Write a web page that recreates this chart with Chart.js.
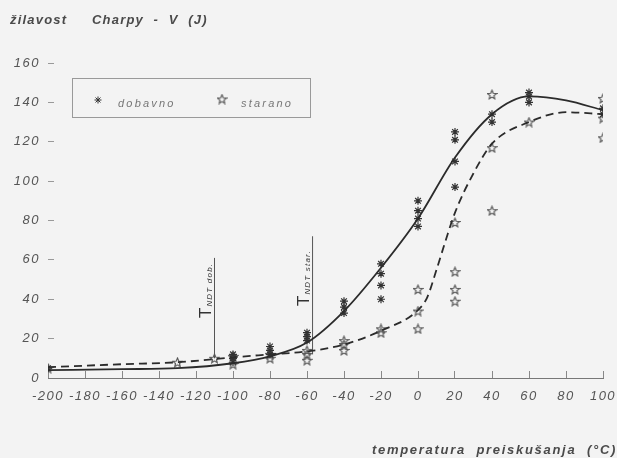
<!DOCTYPE html>
<html>
<head>
<meta charset="utf-8">
<script src="https://cdn.jsdelivr.net/npm/chart.js@4/dist/chart.umd.min.js"></script>
<style>
  body { margin: 0; background: #f3f3f3; }
  canvas { display: block; }
</style>
</head>
<body>
<canvas id="myChart" width="617" height="458"></canvas>
<script>
// izmerjene točke - dobavno
var dobTemp = [-200, -100, -100, -100, -80, -80, -80, -60, -60, -60, -40, -40, -40, -20, -20, -20, -20, 0, 0, 0, 0, 20, 20, 20, 20, 40, 40, 60, 60, 60, 100, 100];
var dobVal = [5, 8, 10, 12, 12, 14, 16, 19, 21, 23, 33, 36, 39, 40, 47, 53, 58, 77, 81, 85, 90, 97, 110, 121, 125, 130, 134, 140, 143, 145, 134, 137];
// izmerjene točke - starano
var starTemp = [-200, -130, -110, -100, -100, -80, -80, -60, -60, -60, -40, -40, -40, -20, -20, 0, 0, 0, 20, 20, 20, 20, 40, 40, 40, 60, 100, 100, 100];
var starVal = [5, 8, 10, 7, 11, 10, 12, 9, 12, 14, 14, 17, 19, 23, 25, 25, 34, 45, 39, 45, 54, 79, 85, 117, 144, 130, 122, 132, 142];
// krivulji
var dobCurveT = [-200, -160, -130, -100, -80, -60, -40, -20, 0, 20, 40, 60, 80, 100];
var dobCurveV = [4, 4.5, 5, 7.5, 11, 18, 34, 56, 81, 112, 134, 143, 141, 136];
var starCurveT = [-200, -160, -130, -100, -80, -60, -40, -20, 0, 5, 10, 15, 20, 30, 40, 60, 80, 100];
var starCurveV = [5.5, 7, 8, 10.5, 12, 13.5, 17, 24, 34.5, 41, 55, 70, 84, 104, 119, 130, 135, 134];
// T NDT
var tndtTemp = [-110, -57];
var tndtLow = [10, 12];
var tndtHigh = [61, 72];
var tndtLabels = ['NDT dob.', 'NDT star.'];

var seriesNames = ['dobavno', 'starano'];
var yTitle = ['žilavost', 'Charpy  -  V  (J)'];
var xTitle = 'temperatura  preiskušanja  (°C)';

function pts(xs, ys) {
    return xs.map(function (x, i) { return { x: x, y: ys[i] }; });
}

// zvezdica (obris) za starano
function makeStar(size, color) {
    var c = document.createElement('canvas');
    c.width = size; c.height = size;
    var g = c.getContext('2d');
    var cx = size / 2, cy = size / 2 + 0.5, R = size / 2 - 0.8, r = R * 0.45;
    g.beginPath();
    for (var i = 0; i < 10; i++) {
        var a = -Math.PI / 2 + i * Math.PI / 5;
        var rr = i % 2 ? r : R;
        g.lineTo(cx + rr * Math.cos(a), cy + rr * Math.sin(a));
    }
    g.closePath();
    g.strokeStyle = color;
    g.lineWidth = 1.1;
    g.stroke();
    return c;
}
var starImg = makeStar(11, '#505050');

var datasets = [
    {
        label: 'dob-krivulja',
        data: pts(dobCurveT, dobCurveV),
        showLine: true,
        borderColor: '#2b2b2b',
        borderWidth: 1.8,
        pointRadius: 0,
        cubicInterpolationMode: 'monotone'
    },
    {
        label: 'star-krivulja',
        data: pts(starCurveT, starCurveV),
        showLine: true,
        borderColor: '#2b2b2b',
        borderWidth: 1.8,
        borderDash: [8, 5],
        pointRadius: 0,
        cubicInterpolationMode: 'monotone'
    }
];
tndtTemp.forEach(function (t, i) {
    datasets.push({
        label: 'T' + tndtLabels[i],
        data: [{ x: t, y: tndtLow[i] }, { x: t, y: tndtHigh[i] }],
        showLine: true,
        borderColor: '#555',
        borderWidth: 1,
        pointRadius: 0
    });
});
datasets.push({
    label: seriesNames[0],
    data: pts(dobTemp, dobVal),
    pointStyle: 'star',
    pointRadius: 4,
    borderColor: '#333',
    borderWidth: 1.2,
    backgroundColor: '#333'
});
datasets.push({
    label: seriesNames[1],
    data: pts(starTemp, starVal),
    pointStyle: starImg,
    pointRadius: 5,
    borderColor: '#555'
});

// napisi, legenda in T NDT oznake
var decor = {
    id: 'decor',
    beforeDraw: function (chart) {
        chart.ctx.letterSpacing = '1.5px';
    },
    afterDraw: function (chart) {
        var ctx = chart.ctx;
        var xs = chart.scales.x;
        ctx.save();
        ctx.fillStyle = '#4a4a4a';
        ctx.font = 'italic bold 13px "Liberation Sans", Arial, sans-serif';
        ctx.letterSpacing = '1.2px';
        ctx.textBaseline = 'alphabetic';
        ctx.textAlign = 'left';
        ctx.fillText(yTitle[0], 10, 24);
        ctx.fillText(yTitle[1], 92, 24);
        ctx.letterSpacing = '1.7px';
        ctx.textAlign = 'right';
        ctx.fillText(xTitle, 617, 454);

        // legenda
        ctx.strokeStyle = '#999';
        ctx.lineWidth = 1;
        ctx.strokeRect(72.5, 78.5, 238, 39);
        ctx.strokeStyle = '#333';
        Chart.helpers.drawPoint(ctx, { pointStyle: 'star', radius: 3.5, borderWidth: 1 }, 98, 100);
        Chart.helpers.drawPoint(ctx, { pointStyle: starImg, radius: 5 }, 222, 99);
        ctx.fillStyle = '#777';
        ctx.font = 'italic 11px "Liberation Sans", Arial, sans-serif';
        ctx.letterSpacing = '2.2px';
        ctx.textAlign = 'left';
        ctx.fillText(seriesNames[0], 118, 107);
        ctx.fillText(seriesNames[1], 241, 107);

        // T NDT
        ctx.fillStyle = '#333';
        var startY = [318, 306];
        tndtTemp.forEach(function (t, i) {
            var px = xs.getPixelForValue(t) - 4;
            ctx.save();
            ctx.translate(px, startY[i]);
            ctx.rotate(-Math.PI / 2);
            ctx.letterSpacing = '0px';
            ctx.font = '17px "Liberation Sans", Arial, sans-serif';
            ctx.fillText('T', 0, 0);
            var w = ctx.measureText('T').width;
            ctx.font = 'italic 8px "Liberation Sans", Arial, sans-serif';
            ctx.letterSpacing = '1.2px';
            ctx.fillText(tndtLabels[i], w + 1, 1);
            ctx.restore();
        });
        ctx.restore();
        ctx.letterSpacing = '0px';
    }
};

var ctx = document.getElementById('myChart').getContext('2d');
var tickFont = { family: '"Liberation Sans", Arial, sans-serif', size: 13, style: 'italic' };

var myChart = new Chart(ctx, {
    type: 'scatter',
    data: { datasets: datasets },
    options: {
        responsive: false,
        animation: false,
        layout: { padding: { top: 63, right: 14, left: 0, bottom: 0 } },
        plugins: {
            legend: { display: false },
            tooltip: { enabled: false }
        },
        scales: {
            x: {
                type: 'linear',
                min: -200,
                max: 100,
                ticks: { stepSize: 20, font: tickFont, color: '#555', padding: 18, maxRotation: 0, autoSkip: false },
                grid: { drawOnChartArea: false, tickLength: -7, color: '#888' },
                border: { color: '#777', width: 1 },
                afterFit: function (s) {
                    s.height = 80;
                    s.paddingLeft = 0;
                    s.paddingRight = 0;
                }
            },
            y: {
                min: 0,
                max: 160,
                ticks: { stepSize: 20, font: tickFont, color: '#555', padding: 14 },
                grid: { drawOnChartArea: false, tickLength: -6, color: '#999' },
                border: { display: false },
                afterFit: function (s) {
                    s.width = 48;
                    s.paddingTop = 0;
                    s.paddingBottom = 0;
                }
            }
        }
    },
    plugins: [decor]
});
</script>
</body>
</html>
